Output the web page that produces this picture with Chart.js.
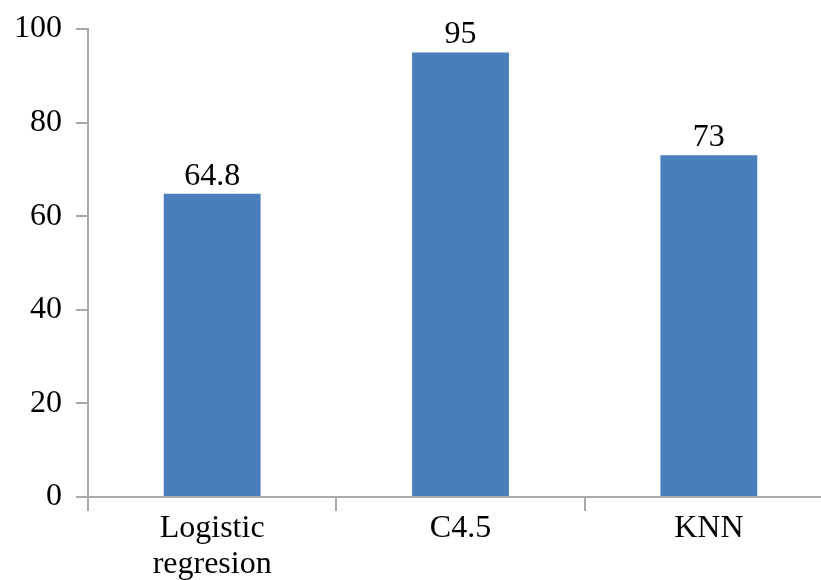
<!DOCTYPE html>
<html>
<head>
<meta charset="utf-8">
<script src="https://cdn.jsdelivr.net/npm/chart.js@4/dist/chart.umd.min.js"></script>
<style>
  html, body { margin:0; padding:0; background:#fff; overflow:hidden; }
  #wrap { position:relative; width:833px; height:580px; }
</style>
</head>
<body>
<div id="wrap"><canvas id="chart"></canvas></div>
<script>
// data
const categories = [["Logistic","regresion"], "C4.5", "KNN"];
const values = [64.8, 95, 73];
const valueLabels = ["64.8", "95", "73"];
const yTicks = [0, 20, 40, 60, 80, 100];

const axisColor = "#a9a9a9";
const font = { family:"'Liberation Serif', 'Times New Roman', serif", size:32 };

// angka di atas batang
const valueLabelPlugin = {
    id:"valueLabels",
    afterDatasetsDraw(chart){
        const ctx = chart.ctx;
        const meta = chart.getDatasetMeta(0);
        ctx.save();
        ctx.font = font.size + "px " + font.family;
        ctx.fillStyle = "#000";
        ctx.textAlign = "center";
        ctx.textBaseline = "alphabetic";
        meta.data.forEach((bar, i)=>{
            ctx.fillText(valueLabels[i], bar.x, bar.y - 9);
        });
        ctx.restore();
    }
};

new Chart(document.getElementById("chart"), {
    type:"bar",
    data:{
        labels:categories,
        datasets:[{
            data:values,
            backgroundColor:"#4a7ebb",
            borderWidth:0,
            categoryPercentage:1,
            barPercentage:0.39
        }]
    },
    options:{
        responsive:true,
        maintainAspectRatio:false,
        animation:false,
        layout:{ padding:{ top:29, left:0, right:0, bottom:0 } },
        plugins:{
            legend:{ display:false },
            tooltip:{ enabled:false }
        },
        scales:{
            x:{
                grid:{
                    offset:true,
                    drawOnChartArea:false,
                    drawTicks:true,
                    tickLength:14,
                    color:axisColor,
                    lineWidth:2
                },
                border:{ display:true, color:axisColor, width:2 },
                ticks:{ color:"#000", font:{ ...font, lineHeight:1.12 }, padding:0, maxRotation:0 },
                afterFit:s=>{ s.height = 83; }
            },
            y:{
                min:0,
                max:100,
                afterBuildTicks:s=>{ s.ticks = yTicks.map(v=>({ value:v })); },
                grid:{
                    drawOnChartArea:false,
                    drawTicks:true,
                    tickLength:12,
                    color:axisColor,
                    lineWidth:2
                },
                border:{ display:true, color:axisColor, width:2 },
                ticks:{ color:"#000", font:{ ...font, lineHeight:0.9 }, padding:14 },
                afterFit:s=>{ s.width = 88; }
            }
        }
    },
    plugins:[valueLabelPlugin]
});
</script>
</body>
</html>
